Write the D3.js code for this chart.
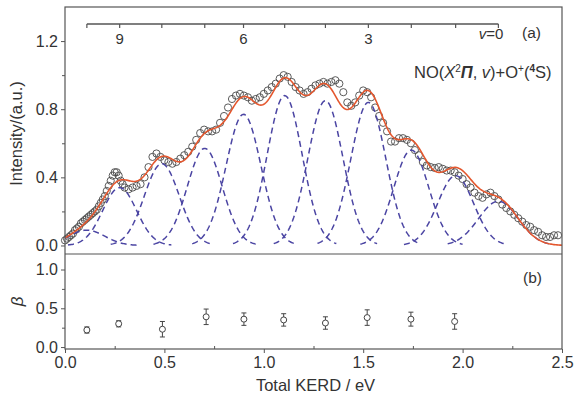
<!DOCTYPE html>
<html>
<head>
<meta charset="utf-8">
<script src="https://cdn.jsdelivr.net/npm/d3@7"></script>
<style>
body { margin: 0; background: #fff; }
text { font-family: "Liberation Sans", Arial, sans-serif; fill: #333; }
</style>
</head>
<body>
<div id="chart"></div>
<script>
// measured spectrum (total KERD, eV) and intensity
var kerd = [0.00,0.01,0.02,0.03,0.04,0.05,0.06,0.07,0.08,0.09,0.10,0.11,0.12,0.13,0.14,0.15,0.16,0.17,0.18,0.19,
	0.20,0.21,0.22,0.23,0.24,0.25,0.26,0.27,0.28,0.29,0.30,0.32,0.34,0.36,0.38,0.40,0.42,0.44,0.46,0.48,
	0.50,0.52,0.54,0.56,0.58,0.60,0.62,0.64,0.66,0.68,0.70,0.72,0.74,0.76,0.78,0.80,0.82,0.84,0.86,0.88,
	0.90,0.92,0.94,0.96,0.98,1.00,1.02,1.04,1.06,1.08,1.10,1.12,1.14,1.16,1.18,1.20,1.22,1.24,1.26,1.28,
	1.30,1.32,1.34,1.36,1.38,1.40,1.42,1.44,1.46,1.48,1.50,1.52,1.54,1.56,1.58,1.60,1.62,1.64,1.66,1.68,
	1.70,1.72,1.74,1.76,1.78,1.80,1.82,1.84,1.86,1.88,1.90,1.92,1.94,1.96,1.98,2.00,2.02,2.04,2.06,2.08,
	2.10,2.12,2.14,2.16,2.18,2.20,2.22,2.24,2.26,2.28,2.30,2.32,2.34,2.36,2.38,2.40,2.42,2.44,2.46,2.48];
var intensity = [0.03,0.04,0.05,0.06,0.07,0.09,0.10,0.11,0.13,0.14,0.15,0.16,0.17,0.18,0.19,0.20,0.21,0.23,0.25,0.27,
	0.29,0.32,0.35,0.38,0.41,0.43,0.43,0.41,0.38,0.36,0.34,0.33,0.34,0.35,0.36,0.40,0.46,0.52,0.54,0.52,
	0.50,0.49,0.48,0.49,0.51,0.53,0.55,0.58,0.62,0.66,0.68,0.67,0.67,0.68,0.72,0.76,0.81,0.86,0.88,0.89,
	0.88,0.87,0.85,0.86,0.87,0.89,0.91,0.93,0.95,0.98,1.00,0.99,0.96,0.93,0.91,0.89,0.90,0.92,0.94,0.95,
	0.96,0.95,0.96,0.97,0.95,0.90,0.84,0.82,0.84,0.88,0.91,0.90,0.87,0.81,0.76,0.72,0.67,0.61,0.61,0.63,
	0.63,0.62,0.60,0.56,0.53,0.49,0.47,0.46,0.455,0.46,0.45,0.44,0.44,0.43,0.41,0.39,0.36,0.34,0.31,0.29,
	0.28,0.30,0.31,0.29,0.27,0.24,0.22,0.20,0.18,0.16,0.14,0.12,0.11,0.09,0.08,0.06,0.05,0.05,0.06,0.06];

// gaussian components, v = 10 ... 0
var peakCenter = [0.11,0.275,0.487,0.703,0.898,1.105,1.31,1.526,1.742,1.965,2.18];
var peakHeight = [0.09,0.34,0.48,0.57,0.77,0.88,0.85,0.84,0.56,0.41,0.26];
var peakSigma  = [0.09,0.085,0.088,0.088,0.088,0.088,0.088,0.088,0.088,0.09,0.1];

// vibrational comb on top
var combV = [10,9,8,7,6,5,4,3,2,1,0];
var combLabels = {9: "9", 6: "6", 3: "3"};

// anisotropy parameter
var betaE = [0.11,0.27,0.49,0.71,0.90,1.10,1.31,1.52,1.74,1.96];
var beta = [0.22,0.30,0.23,0.39,0.36,0.35,0.31,0.38,0.36,0.33];
var betaErr = [0.04,0.04,0.10,0.10,0.08,0.08,0.08,0.10,0.09,0.10];

var W = 576, H = 399;
var left = 65, right = 562, top1 = 7, bot1 = 254, bot2 = 349;

var svg = d3.select("#chart").append("svg")
	.attr("width", W)
	.attr("height", H);

var x = d3.scaleLinear().domain([0, 2.5]).range([left, right]);
var y1 = d3.scaleLinear().domain([-0.05, 1.4]).range([bot1, top1]);
var y2 = d3.scaleLinear().domain([-0.025, 1.2]).range([bot2, bot1]);

var axisColor = "#555";

function gauss(e, i) {
	var d = e - peakCenter[i];
	return peakHeight[i] * Math.exp(-d * d / (2 * peakSigma[i] * peakSigma[i]));
}

// sample grid for drawing the curves
var grid = d3.range(0, 2.5001, 0.005);

var plot = svg.append("g");

// data circles
plot.selectAll(".pt")
	.data(kerd)
	.enter().append("circle")
	.attr("class", "pt")
	.attr("cx", function (d) { return x(d); })
	.attr("cy", function (d, i) { return y1(intensity[i]); })
	.attr("r", 3.6)
	.style("fill", "none")
	.style("stroke", "#4a4a4a")
	.style("stroke-width", 0.9);

// dashed components (each drawn a few widths either side of its centre)
var line1 = d3.line()
	.x(function (d) { return x(d[0]); })
	.y(function (d) { return y1(d[1]); });

peakCenter.forEach(function (c, i) {
	var span = grid.filter(function (e) { return Math.abs(e - c) <= 0.26; });
	plot.append("path")
		.datum(span.map(function (e) { return [e, gauss(e, i)]; }))
		.attr("d", line1)
		.style("fill", "none")
		.style("stroke", "#4b45a3")
		.style("stroke-width", 1.5)
		.style("stroke-dasharray", "6,4");
});

// fit = sum of components
plot.append("path")
	.datum(grid.map(function (e) {
		var s = 0;
		for (var i = 0; i < peakCenter.length; i++) s += gauss(e, i);
		return [e, s];
	}))
	.attr("d", line1)
	.style("fill", "none")
	.style("stroke", "#e4572e")
	.style("stroke-width", 1.6);

// frame
svg.append("rect")
	.attr("x", left).attr("y", top1)
	.attr("width", right - left).attr("height", bot2 - top1)
	.style("fill", "none").style("stroke", axisColor).style("stroke-width", 1.2);
svg.append("line")
	.attr("x1", left).attr("x2", right).attr("y1", bot1).attr("y2", bot1)
	.style("stroke", axisColor).style("stroke-width", 1.2);

// y axes
function yAxis(scale, major, minor, fmt) {
	var g = svg.append("g").attr("transform", "translate(" + left + ",0)");
	g.call(d3.axisLeft(scale).tickValues(major).tickSize(4).tickPadding(3).tickFormat(d3.format(fmt)));
	g.append("g").call(d3.axisLeft(scale).tickValues(minor).tickSize(3).tickFormat(""));
	g.selectAll(".domain").remove();
	g.selectAll("line").style("stroke", axisColor);
	g.selectAll("text").style("font-size", "16px").style("fill", "#333")
		.style("font-family", "Liberation Sans, Arial, sans-serif");
	return g;
}
yAxis(y1, [0, 0.4, 0.8, 1.2], [0.2, 0.6, 1.0], ".1f");
yAxis(y2, [0, 0.5, 1.0], [0.25, 0.75], ".1f");

// x axis
var gx = svg.append("g").attr("transform", "translate(0," + bot2 + ")");
gx.call(d3.axisBottom(x).tickValues([0, 0.5, 1, 1.5, 2, 2.5]).tickSize(4).tickPadding(4).tickFormat(d3.format(".1f")));
gx.append("g").call(d3.axisBottom(x).tickValues([0.25, 0.75, 1.25, 1.75, 2.25]).tickSize(-3).tickFormat(""));
gx.selectAll(".domain").remove();
gx.selectAll("line").style("stroke", axisColor);
gx.selectAll("text").style("font-size", "16px").style("fill", "#333")
	.style("font-family", "Liberation Sans, Arial, sans-serif");

// axis titles
svg.append("text")
	.attr("transform", "translate(22," + ((top1 + bot1) / 2 + 3) + ") rotate(-90)")
	.attr("text-anchor", "middle")
	.style("font-size", "16.5px")
	.text("Intensity/(a.u.)");
svg.append("text")
	.attr("transform", "translate(23," + ((bot1 + bot2) / 2) + ") rotate(-90)")
	.attr("text-anchor", "middle")
	.style("font-size", "17px")
	.style("font-style", "italic")
	.text("β");
svg.append("text")
	.attr("x", (left + right) / 2 + 2)
	.attr("y", 391)
	.attr("text-anchor", "middle")
	.style("font-size", "16.5px")
	.text("Total KERD / eV");

// vibrational comb
var combY = 24;
var combPos = combV.map(function (v) { return peakCenter[10 - v]; });
svg.append("line")
	.attr("x1", x(d3.min(combPos))).attr("x2", x(d3.max(combPos)))
	.attr("y1", combY).attr("y2", combY)
	.style("stroke", axisColor).style("stroke-width", 1.3);
svg.selectAll(".comb")
	.data(combV)
	.enter().append("line")
	.attr("class", "comb")
	.attr("x1", function (v) { return x(peakCenter[10 - v]); })
	.attr("x2", function (v) { return x(peakCenter[10 - v]); })
	.attr("y1", combY).attr("y2", combY + 4)
	.style("stroke", axisColor).style("stroke-width", 1.2);
svg.selectAll(".combLab")
	.data(combV.filter(function (v) { return combLabels[v]; }))
	.enter().append("text")
	.attr("class", "combLab")
	.attr("x", function (v) { return x(peakCenter[10 - v]); })
	.attr("y", 44)
	.attr("text-anchor", "middle")
	.style("font-size", "15px")
	.text(function (v) { return combLabels[v]; });
var v0 = svg.append("text")
	.attr("x", x(peakCenter[10]) + 5)
	.attr("y", 39)
	.attr("text-anchor", "end")
	.style("font-size", "15px");
v0.append("tspan").style("font-style", "italic").text("v");
v0.append("tspan").text("=0");

svg.append("text").attr("x", 522).attr("y", 38).style("font-size", "15.5px").text("(a)");
svg.append("text").attr("x", 523).attr("y", 283).style("font-size", "15.5px").text("(b)");

// species label
var lab = svg.append("text").attr("x", 414).attr("y", 78).style("font-size", "16.5px");
lab.append("tspan").text("NO(");
lab.append("tspan").style("font-style", "italic").text("X");
lab.append("tspan").attr("dy", -6).style("font-size", "10px").text("2");
lab.append("tspan").attr("dy", 6).style("font-style", "italic").style("font-weight", "bold").text("Π");
lab.append("tspan").text(", ");
lab.append("tspan").style("font-style", "italic").text("v");
lab.append("tspan").text(")+O");
lab.append("tspan").attr("dy", -6).style("font-size", "10px").text("+");
lab.append("tspan").attr("dy", 6).text("(");
lab.append("tspan").attr("dy", -6).style("font-size", "10px").style("font-weight", "bold").text("4");
lab.append("tspan").attr("dy", 6).text("S)");

// beta points with error bars
var bg = svg.append("g");
betaE.forEach(function (e, i) {
	var cx = x(e);
	var lo = y2(beta[i] - betaErr[i]), hi = y2(beta[i] + betaErr[i]);
	bg.append("line").attr("x1", cx).attr("x2", cx).attr("y1", lo).attr("y2", hi)
		.style("stroke", "#444").style("stroke-width", 1);
	[lo, hi].forEach(function (yy) {
		bg.append("line").attr("x1", cx - 2.5).attr("x2", cx + 2.5).attr("y1", yy).attr("y2", yy)
			.style("stroke", "#444").style("stroke-width", 1);
	});
	bg.append("circle").attr("cx", cx).attr("cy", y2(beta[i])).attr("r", 3)
		.style("fill", "#fff").style("stroke", "#444").style("stroke-width", 1);
});
</script>
</body>
</html>
